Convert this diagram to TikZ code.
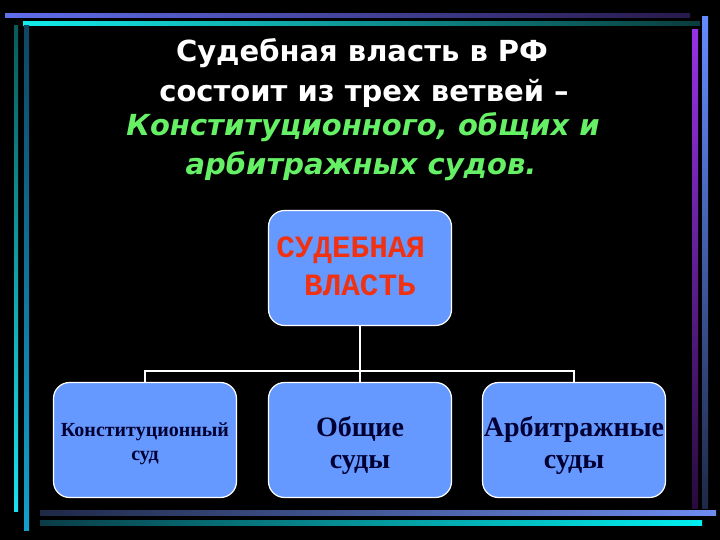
\documentclass[tikz,border=0pt]{standalone}
\usepackage{fontspec}
\newfontfamily\titlefont{DejaVu Sans}
\newfontfamily\serifbox{Liberation Serif}
\newfontfamily\courbox{Liberation Mono}
\definecolor{boxblue}{RGB}{102,153,255}
\definecolor{titlegreen}{RGB}{102,240,102}
\definecolor{powerred}{RGB}{240,50,20}
\definecolor{courtnavy}{RGB}{0,0,51}
\begin{document}
\begin{tikzpicture}[x=1pt, y=-1pt,
  branch/.style={draw=white, line width=1.2pt, fill=boxblue, rounded corners=16pt,
    minimum width=183pt, minimum height=115pt, inner sep=0pt},
  branchtext/.style={align=center, text=courtnavy, inner sep=0pt},
  titleline/.style={anchor=base, text=white, font=\titlefont\bfseries\fontsize{29}{34}\selectfont},
  greenline/.style={anchor=base, text=titlegreen, font=\titlefont\bfseries\itshape\fontsize{29}{34}\selectfont},
  link/.style={draw=white, line width=2pt}]

% Background and frame lines
\fill[black] (0,0) rectangle (720,540);
\shade[left color={rgb,255:red,95;green,110;blue,235}, right color={rgb,255:red,40;green,25;blue,75}] (5,14) rectangle (690,18);
\shade[left color={rgb,255:red,20;green,235;blue,235}, right color={rgb,255:red,10;green,60;blue,60}] (23,22) rectangle (700,26);
\shade[top color={rgb,255:red,10;green,90;blue,90}, bottom color={rgb,255:red,25;green,225;blue,240}] (14,26) rectangle (18,511);
\shade[top color={rgb,255:red,15;green,70;blue,100}, bottom color={rgb,255:red,20;green,160;blue,205}] (24,26) rectangle (29,530);
\shade[top color={rgb,255:red,150;green,50;blue,230}, bottom color={rgb,255:red,40;green,10;blue,60}] (692,30) rectangle (698,508);
\shade[top color={rgb,255:red,100;green,140;blue,255}, bottom color={rgb,255:red,30;green,40;blue,70}] (702,17) rectangle (708,508);
\shade[left color={rgb,255:red,30;green,40;blue,70}, right color={rgb,255:red,110;green,140;blue,240}] (40,510) rectangle (716,515);
\shade[left color={rgb,255:red,10;green,60;blue,70}, right color={rgb,255:red,0;green,240;blue,240}] (40,520) rectangle (702,525);

% Title
\node[titleline] (t1) at (362,62) {Судебная власть в РФ};
\node[titleline] (t2) at (364,102) {состоит из трех ветвей –};
\node[greenline] (t3) at (363,136) {Конституционного, общих и};
\node[greenline] (t4) at (361,175) {арбитражных судов.};

% Boxes
\node[branch] (sv) at (360,268) {};
\node[branch] (ks) at (145,440) {};
\node[branch] (os) at (360,440) {};
\node[branch] (as) at (574,440) {};

\node[branchtext, text=powerred, font=\courbox\bfseries\fontsize{31}{38}\selectfont] (sv-t) at ([yshift=2pt]sv.center) {СУДЕБНАЯ\phantom{Я}\\ВЛАСТЬ};
\node[branchtext, font=\serifbox\bfseries\fontsize{20}{24}\selectfont] (ks-t) at ([yshift=-4pt]ks.center) {Конституционный\\суд};
\node[branchtext, font=\serifbox\bfseries\fontsize{28}{32}\selectfont] (os-t) at ([yshift=-5pt]os.center) {Общие\\суды};
\node[branchtext, font=\serifbox\bfseries\fontsize{28}{32}\selectfont] (as-t) at ([yshift=-5pt]as.center) {Арбитражные\\суды};

% Connectors
\coordinate (bus) at (360,371);
\draw[link] (sv.south) -- (bus);
\draw[link] (ks.north) |- (bus) -| (as.north);
\draw[link] (bus) -- (os.north);
\end{tikzpicture}
\end{document}
